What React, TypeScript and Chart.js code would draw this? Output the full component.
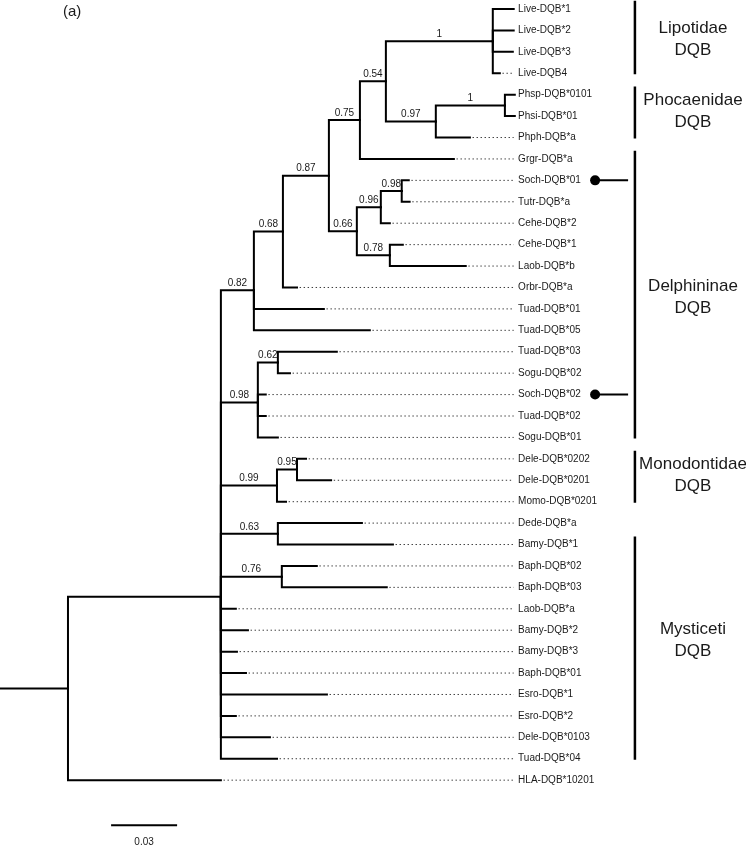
import React, { useEffect, useRef } from "react";
import { Chart, registerables } from "chart.js";

Chart.register(...registerables);

// ---- Data: tree leaves (top to bottom order), their parent node and branch length ----
const leafNames = [
  "Live-DQB*1", "Live-DQB*2", "Live-DQB*3", "Live-DQB4",
  "Phsp-DQB*0101", "Phsi-DQB*01", "Phph-DQB*a", "Grgr-DQB*a",
  "Soch-DQB*01", "Tutr-DQB*a", "Cehe-DQB*2", "Cehe-DQB*1", "Laob-DQB*b",
  "Orbr-DQB*a", "Tuad-DQB*01", "Tuad-DQB*05", "Tuad-DQB*03", "Sogu-DQB*02",
  "Soch-DQB*02", "Tuad-DQB*02", "Sogu-DQB*01", "Dele-DQB*0202", "Dele-DQB*0201",
  "Momo-DQB*0201", "Dede-DQB*a", "Bamy-DQB*1", "Baph-DQB*02", "Baph-DQB*03",
  "Laob-DQB*a", "Bamy-DQB*2", "Bamy-DQB*3", "Baph-DQB*01", "Esro-DQB*1",
  "Esro-DQB*2", "Dele-DQB*0103", "Tuad-DQB*04", "HLA-DQB*10201",
];
const leafParents = [
  "nLive", "nLive", "nLive", "nLive",
  "nPho", "nPho", "n97", "n75",
  "n98", "n98", "n96", "n78", "n78",
  "n68", "n82", "n82", "n62", "n62",
  "n98b", "n98b", "n98b", "n95", "n95",
  "n99", "n63", "n63", "n76", "n76",
  "ingroup", "ingroup", "ingroup", "ingroup", "ingroup",
  "ingroup", "ingroup", "ingroup", "root",
];
const leafLengths = [
  0.0095, 0.0095, 0.0091, 0.0032,
  0.0045, 0.0045, 0.0155, 0.0427,
  0.0032, 0.0036, 0.0041, 0.0059, 0.0345,
  0.0064, 0.0318, 0.0527, 0.0268, 0.0055,
  0.0036, 0.0036, 0.0091, 0.0041, 0.0155,
  0.0041, 0.0382, 0.0523, 0.0159, 0.0477,
  0.0068, 0.0123, 0.0073, 0.0114, 0.0482,
  0.0068, 0.0223, 0.0255, 0.0695,
];

// ---- Data: internal nodes, parent, branch length and support value ----
const nodeNames = [
  "root", "ingroup", "n82", "n68", "n87", "n75", "n54", "nLive", "n97", "nPho",
  "n66", "n96", "n98", "n78", "n98b", "n62", "n99", "n95", "n63", "n76",
];
const nodeParents = [
  null, "root", "ingroup", "n82", "n68", "n87", "n75", "n54", "n54", "n97",
  "n87", "n66", "n96", "n66", "ingroup", "n98b", "ingroup", "n99", "ingroup", "ingroup",
];
const nodeLengths = [
  0.0309, 0.0695, 0.0150, 0.0132, 0.0209, 0.0141, 0.0118, 0.0486, 0.0227, 0.0314,
  0.0127, 0.0109, 0.0095, 0.0150, 0.0168, 0.0091, 0.0255, 0.0091, 0.0259, 0.0277,
];
const nodeSupport = [
  "", "", "0.82", "0.68", "0.87", "0.75", "0.54", "1", "0.97", "1",
  "0.66", "0.96", "0.98", "0.78", "0.98", "0.62", "0.99", "0.95", "0.63", "0.76",
];

// ---- Data: clade brackets ----
const cladeNames = ["Lipotidae", "Phocaenidae", "Delphininae", "Monodontidae", "Mysticeti"];
const cladeSuffix = "DQB";
const cladeFirstLeaf = [0, 4, 7, 21, 25];
const cladeLastLeaf = [3, 6, 20, 23, 35];
const cladeLabelRow = [1.4, 4.76, 13.45, 21.76, 29.46];

const markedLeaves = ["Soch-DQB*01", "Soch-DQB*02"];
const scaleBarLength = 0.03;
const scaleBarLabel = "0.03";
const panelLabel = "(a)";

// ---- Layout constants (axis units) ----
const X_MAX = 746 / 2200;
const Y_MIN = -0.42;
const Y_MAX = 39.12;
const LABEL_X = 0.2355;
const LEADER_END = 0.2335;
const MARKER_X = 0.2705;
const MARKER_LINE_END = 0.2855;
const CLADE_BAR_X = 0.2886;
const CLADE_TEXT_X = 0.315;
const SCALE_BAR_X = 0.0505;
const SCALE_BAR_ROW = 38.1;
const SCALE_LABEL_ROW = 38.88;

const FONT = '"Liberation Sans", Arial, Helvetica, sans-serif';

function layoutTree() {
  const parentOf: Record<string, string | null> = {};
  const lengthOf: Record<string, number> = {};
  const xPos: Record<string, number> = {};
  const row: Record<string, number> = {};
  nodeNames.forEach((n, i) => {
    parentOf[n] = nodeParents[i];
    lengthOf[n] = nodeLengths[i];
  });
  leafNames.forEach((n, i) => {
    parentOf[n] = leafParents[i];
    lengthOf[n] = leafLengths[i];
    row[n] = i;
  });
  const all = [...nodeNames, ...leafNames];
  const children: Record<string, string[]> = {};
  all.forEach((n) => {
    const p = parentOf[n];
    if (p) (children[p] = children[p] || []).push(n);
  });
  const getX = (n: string): number => {
    if (xPos[n] !== undefined) return xPos[n];
    const p = parentOf[n];
    const v = (p ? getX(p) : 0) + lengthOf[n];
    xPos[n] = v;
    return v;
  };
  const getRow = (n: string): number => {
    if (row[n] !== undefined) return row[n];
    const c = children[n];
    const v = c.reduce((s, k) => s + getRow(k), 0) / c.length;
    row[n] = v;
    return v;
  };
  all.forEach((n) => {
    getX(n);
    getRow(n);
  });
  return { parentOf, xPos, row };
}

export default function App() {
  const canvasRef = useRef<HTMLCanvasElement | null>(null);

  useEffect(() => {
    document.body.style.margin = "0";
    document.body.style.overflow = "hidden";
    const canvas = canvasRef.current;
    if (!canvas) return;
    const { parentOf, xPos, row } = layoutTree();

    const solid = {
      showLine: true,
      pointRadius: 0,
      borderColor: "#000",
      borderWidth: 2,
      tension: 0,
      fill: false,
      borderCapStyle: "square",
      borderJoinStyle: "miter",
      clip: false,
    };
    const datasets: any[] = [];

    // root stub
    datasets.push({
      ...solid,
      data: [
        { x: 0, y: row.root },
        { x: xPos.root, y: row.root },
      ],
    });
    // elbow branches
    [...nodeNames, ...leafNames].forEach((n) => {
      const p = parentOf[n];
      if (!p) return;
      datasets.push({
        ...solid,
        data: [
          { x: xPos[p], y: row[p] },
          { x: xPos[p], y: row[n] },
          { x: xPos[n], y: row[n] },
        ],
      });
    });
    // dotted leaders
    leafNames.forEach((n, i) => {
      if (xPos[n] >= LEADER_END - 0.0005) return;
      datasets.push({
        showLine: true,
        pointRadius: 0,
        borderColor: "#3a3a3a",
        borderWidth: 1,
        borderDash: [1.4, 2.6],
        tension: 0,
        fill: false,
        data: [
          { x: xPos[n] + 0.0012, y: i },
          { x: LEADER_END, y: i },
        ],
      });
    });
    // clade bars
    cladeNames.forEach((_, k) => {
      datasets.push({
        ...solid,
        borderWidth: 2.5,
        borderCapStyle: "butt",
        data: [
          { x: CLADE_BAR_X, y: cladeFirstLeaf[k] - 0.38 },
          { x: CLADE_BAR_X, y: cladeLastLeaf[k] + 0.05 },
        ],
      });
    });
    // markers
    markedLeaves.forEach((name) => {
      const r = leafNames.indexOf(name);
      datasets.push({
        ...solid,
        borderCapStyle: "butt",
        data: [
          { x: MARKER_X, y: r },
          { x: MARKER_LINE_END, y: r },
        ],
      });
      datasets.push({
        showLine: false,
        pointRadius: 5,
        pointBackgroundColor: "#000",
        pointBorderColor: "#000",
        pointBorderWidth: 0,
        clip: false,
        data: [{ x: MARKER_X, y: r }],
      });
    });
    // scale bar
    datasets.push({
      ...solid,
      borderCapStyle: "butt",
      data: [
        { x: SCALE_BAR_X, y: SCALE_BAR_ROW },
        { x: SCALE_BAR_X + scaleBarLength, y: SCALE_BAR_ROW },
      ],
    });

    const textPlugin = {
      id: "treeText",
      afterDatasetsDraw(chart: any) {
        const { ctx, scales } = chart;
        const sx = scales.x;
        const sy = scales.y;
        ctx.save();
        ctx.fillStyle = "#1a1a1a";
        // leaf labels
        ctx.font = `10px ${FONT}`;
        ctx.textAlign = "left";
        ctx.textBaseline = "middle";
        leafNames.forEach((n, i) => {
          ctx.fillText(n, sx.getPixelForValue(LABEL_X), sy.getPixelForValue(i));
        });
        // support values
        ctx.textAlign = "center";
        ctx.textBaseline = "bottom";
        nodeNames.forEach((n, i) => {
          const s = nodeSupport[i];
          const p = parentOf[n];
          if (!s || !p) return;
          const cx = (sx.getPixelForValue(xPos[p]) + sx.getPixelForValue(xPos[n])) / 2;
          ctx.fillText(s, cx, sy.getPixelForValue(row[n]) - 2);
        });
        // clade labels
        ctx.font = `17px ${FONT}`;
        ctx.textBaseline = "middle";
        cladeNames.forEach((c, k) => {
          const cy = sy.getPixelForValue(cladeLabelRow[k]);
          const cx = sx.getPixelForValue(CLADE_TEXT_X);
          ctx.fillText(c, cx, cy - 11);
          ctx.fillText(cladeSuffix, cx, cy + 11);
        });
        // scale bar label
        ctx.font = `10px ${FONT}`;
        ctx.fillText(
          scaleBarLabel,
          sx.getPixelForValue(SCALE_BAR_X + scaleBarLength / 2),
          sy.getPixelForValue(SCALE_LABEL_ROW)
        );
        // panel label
        ctx.font = `15px ${FONT}`;
        ctx.textAlign = "left";
        ctx.fillText(panelLabel, 63, 12);
        ctx.restore();
      },
    };

    const chart = new Chart(canvas, {
      type: "scatter",
      data: { datasets },
      options: {
        animation: false,
        responsive: false,
        events: [],
        layout: { padding: 0, autoPadding: false },
        plugins: { legend: { display: false }, tooltip: { enabled: false } },
        scales: {
          x: { type: "linear", min: 0, max: X_MAX, display: false },
          y: { type: "linear", min: Y_MIN, max: Y_MAX, reverse: true, display: false },
        },
      },
      plugins: [textPlugin],
    } as any);
    return () => chart.destroy();
  }, []);

  return (
    <div style={{ width: 746, height: 847, background: "#fff" }}>
      <canvas ref={canvasRef} width={746} height={847} style={{ display: "block" }} />
    </div>
  );
}
